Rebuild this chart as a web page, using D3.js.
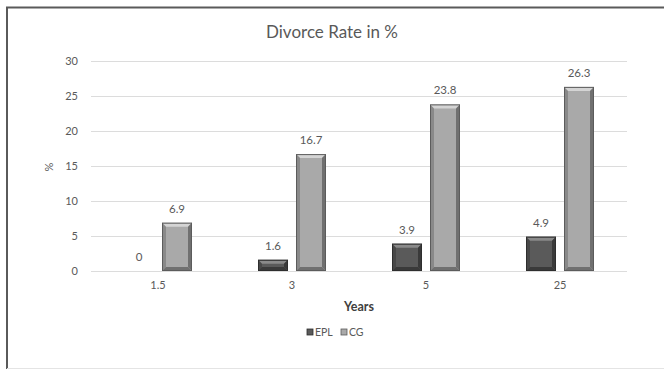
<!DOCTYPE html>
<html>
<head>
<meta charset="utf-8">
<script src="https://cdn.jsdelivr.net/npm/d3@7"></script>
<style>
  html, body { margin: 0; padding: 0; background: #fff; }
  svg { display: block; }
  text { font-family: Lato, "Open Sans", sans-serif; fill: #595959; }
</style>
</head>
<body>
<svg id="chart" width="664" height="369"></svg>
<script>
// Divorce rate by years since treatment, two groups
const categories = ["1.5", "3", "5", "25"];
const seriesNames = ["EPL", "CG"];
const eplValues = [0, 1.6, 3.9, 4.9];
const cgValues = [6.9, 16.7, 23.8, 26.3];
const yTicks = [0, 5, 10, 15, 20, 25, 30];

const W = 664, H = 369;
const margin = { left: 91, right: 37, top: 61, bottom: 98 };
const svg = d3.select("#chart");

// frame
svg.append("rect").attr("x", 0).attr("y", 0).attr("width", W).attr("height", H).attr("fill", "#fff");
svg.append("line").attr("x1", 6).attr("x2", W).attr("y1", 7.5).attr("y2", 7.5)
  .attr("stroke", "#5a5a5a").attr("stroke-width", 2);
svg.append("line").attr("x1", 7).attr("x2", 7).attr("y1", 7).attr("y2", H)
  .attr("stroke", "#5a5a5a").attr("stroke-width", 2);
svg.append("line").attr("x1", 7).attr("x2", W).attr("y1", 368.5).attr("y2", 368.5)
  .attr("stroke", "#e4e4e4").attr("stroke-width", 1);

const x0 = d3.scaleBand().domain(categories).range([margin.left, W - margin.right]).paddingInner(0).paddingOuter(0);
const y = d3.scaleLinear().domain([0, 30]).range([H - margin.bottom, margin.top]);

// gridlines
svg.append("g").selectAll("line").data(yTicks).join("line")
  .attr("x1", margin.left).attr("x2", W - margin.right)
  .attr("y1", d => Math.round(y(d)) + 0.5).attr("y2", d => Math.round(y(d)) + 0.5)
  .attr("stroke", "#dcdcdc").attr("stroke-width", 1);

// y axis labels
const yAxis = d3.axisLeft(y).tickValues(yTicks).tickSize(0).tickPadding(0);
const gy = svg.append("g").attr("transform", `translate(${margin.left - 13},0)`).call(yAxis);
gy.select(".domain").remove();
gy.selectAll("text").attr("font-size", 11).attr("fill", "#595959")
  .style("font-family", "Lato, 'Open Sans', sans-serif");

// x axis labels
const xAxis = d3.axisBottom(x0).tickSize(0).tickPadding(0);
const gx = svg.append("g").attr("transform", `translate(0,${H - margin.bottom + 10})`).call(xAxis);
gx.select(".domain").remove();
gx.selectAll("text").attr("font-size", 11).attr("fill", "#595959")
  .style("font-family", "Lato, 'Open Sans', sans-serif");

// bars
const barW = 30, gap = 8;
const x1 = d3.scaleOrdinal().domain(seriesNames).range([-(barW + gap / 2), gap / 2]);
const fills = { EPL: "#5a5a5a", CG: "#a9a9a9" };
const light = { EPL: "#8a8a8a", CG: "#d4d4d4" };
const dark = { EPL: "#3a3a3a", CG: "#707070" };
const edge = { EPL: "#2e2e2e", CG: "#5c5c5c" };

const rows = [];
categories.forEach((c, i) => {
  rows.push({ cat: c, s: "EPL", v: eplValues[i] });
  rows.push({ cat: c, s: "CG", v: cgValues[i] });
});

const bev = 4;
rows.forEach(d => {
  const bx = x0(d.cat) + x0.bandwidth() / 2 + x1(d.s);
  const by = y(d.v);
  const bh = y(0) - by;
  if (bh <= 0) return;
  const g = svg.append("g");
  const b = Math.min(bev, bh / 2);
  g.append("rect").attr("x", bx).attr("y", by).attr("width", barW).attr("height", bh)
    .attr("fill", fills[d.s]);
  // top bevel
  g.append("polygon").attr("points", [[bx, by], [bx + barW, by], [bx + barW - b, by + b], [bx + b, by + b]].join(" "))
    .attr("fill", light[d.s]);
  // left bevel
  g.append("polygon").attr("points", [[bx, by], [bx + b, by + b], [bx + b, by + bh - b], [bx, by + bh]].join(" "))
    .attr("fill", dark[d.s]).attr("opacity", 0.55);
  // right bevel
  g.append("polygon").attr("points", [[bx + barW, by], [bx + barW - b, by + b], [bx + barW - b, by + bh - b], [bx + barW, by + bh]].join(" "))
    .attr("fill", dark[d.s]);
  // bottom bevel
  g.append("polygon").attr("points", [[bx, by + bh], [bx + b, by + bh - b], [bx + barW - b, by + bh - b], [bx + barW, by + bh]].join(" "))
    .attr("fill", dark[d.s]);
  g.append("rect").attr("x", bx + 0.5).attr("y", by + 0.5).attr("width", barW - 1).attr("height", bh - 1)
    .attr("fill", "none").attr("stroke", edge[d.s]).attr("stroke-width", 1);
});

// value labels
svg.append("g").selectAll("text").data(rows).join("text")
  .attr("x", d => x0(d.cat) + x0.bandwidth() / 2 + x1(d.s) + barW / 2)
  .attr("y", d => y(d.v) - 10)
  .attr("text-anchor", "middle").attr("font-size", 11.5)
  .text(d => d.v);

// title
svg.append("text").attr("x", 332).attr("y", 38).attr("text-anchor", "middle")
  .attr("font-size", 17).text("Divorce Rate in %");

// axis titles
svg.append("text").attr("x", (margin.left + W - margin.right) / 2).attr("y", 311)
  .attr("text-anchor", "middle").attr("font-size", 12.5).attr("font-weight", "bold")
  .style("fill", "#404040").text("Years");
svg.append("text").attr("transform", "translate(53,167) rotate(-90)")
  .attr("text-anchor", "middle").attr("font-size", 11).text("%");

// legend
const legend = svg.append("g").attr("transform", "translate(307,336)");
seriesNames.forEach((s, i) => {
  const lx = i * 34;
  legend.append("rect").attr("x", lx).attr("y", -7).attr("width", 6).attr("height", 6)
    .attr("fill", fills[s]).attr("stroke", edge[s]).attr("stroke-width", 0.8);
  legend.append("text").attr("x", lx + 8).attr("y", 0).attr("font-size", 10.5).text(s);
});
</script>
</body>
</html>
